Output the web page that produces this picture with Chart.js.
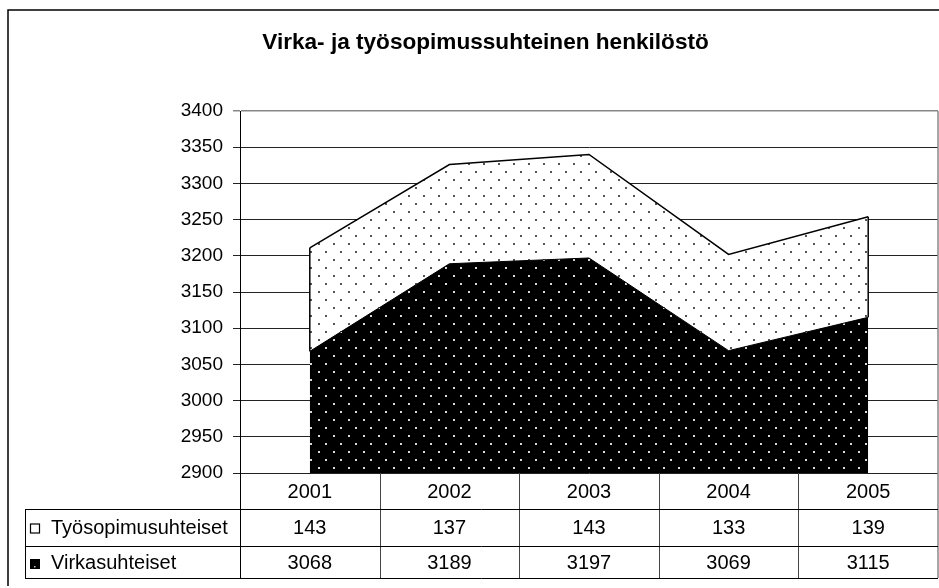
<!DOCTYPE html>
<html>
<head>
<meta charset="utf-8">
<script src="https://cdn.jsdelivr.net/npm/chart.js@4.4.0/dist/chart.umd.min.js"></script>
<style>
  body { margin: 0; background: #fff; }
</style>
</head>
<body>
<canvas id="myChart" width="939" height="588"></canvas>
<script>
// DATA

const chartTitle = "Virka- ja työsopimussuhteinen henkilöstö";
const years = ["2001", "2002", "2003", "2004", "2005"];
const tyoValues = [143, 137, 143, 133, 139];
const virkaValues = [3068, 3189, 3197, 3069, 3115];
const tyoName = "Työsopimusuhteiset";
const virkaName = "Virkasuhteiset";
const yMin = 2900;
const yMax = 3400;
const yStep = 50;

const FONT = '"Liberation Sans", Arial, sans-serif';

const canvas = document.getElementById('myChart');
const mainCtx = canvas.getContext('2d');

// dotted fill like the old excel pattern
function dotPattern(bg, dot) {
  const c = document.createElement('canvas');
  c.width = 15;
  c.height = 16;
  const g = c.getContext('2d');
  g.fillStyle = bg;
  g.fillRect(0, 0, 15, 16);
  g.fillStyle = dot;
  g.fillRect(3, 3, 2, 2);
  g.fillRect(10, 11, 2, 2);
  return mainCtx.createPattern(c, 'repeat');
}

// TITLE, FRAME AND DATA TABLE

const tablePlugin = {
  id: 'dataTable',
  afterDraw(chart) {
    const ctx = chart.ctx;
    const a = chart.chartArea;
    const xs = chart.scales.x;
    const rows = [a.bottom, a.bottom + 36, a.bottom + 73, a.bottom + 105];
    const tableLeft = 25;

    ctx.save();

    // outer frame (cropped at right and bottom)
    ctx.strokeStyle = '#000';
    ctx.lineWidth = 1.5;
    ctx.beginPath();
    ctx.moveTo(8, 586);
    ctx.lineTo(8, 10);
    ctx.lineTo(939, 10);
    ctx.stroke();

    // title
    ctx.fillStyle = '#000';
    ctx.font = 'bold 22.6px ' + FONT;
    ctx.textAlign = 'center';
    ctx.textBaseline = 'middle';
    ctx.fillText(chartTitle, 485.5, 43);

    // side edges of the stacked areas
    const m0 = chart.getDatasetMeta(0).data;
    const m1 = chart.getDatasetMeta(1).data;
    ctx.strokeStyle = '#000';
    ctx.lineWidth = 1.5;
    [0, m1.length - 1].forEach(i => {
      ctx.beginPath();
      ctx.moveTo(m1[i].x, m1[i].y);
      ctx.lineTo(m0[i].x, m0[i].y);
      ctx.stroke();
    });

    // plot right border + table right border
    ctx.strokeStyle = '#888';
    ctx.lineWidth = 1.5;
    ctx.beginPath();
    ctx.moveTo(a.right, a.top);
    ctx.lineTo(a.right, rows[3]);
    ctx.stroke();

    // axis line continues through the table
    ctx.strokeStyle = '#000';
    ctx.lineWidth = 1;
    ctx.beginPath();
    ctx.moveTo(a.left + 0.5, a.bottom);
    ctx.lineTo(a.left + 0.5, rows[3]);
    ctx.stroke();

    // category separators
    ctx.strokeStyle = '#444';
    for (let i = 1; i < years.length; i++) {
      const bx = Math.round((xs.getPixelForValue(i - 1) + xs.getPixelForValue(i)) / 2) + 0.5;
      ctx.beginPath();
      ctx.moveTo(bx, rows[0]);
      ctx.lineTo(bx, rows[3]);
      ctx.stroke();
    }

    // horizontal rows
    ctx.strokeStyle = '#000';
    [rows[1], rows[2], rows[3]].forEach(ry => {
      ctx.beginPath();
      ctx.moveTo(tableLeft, ry + 0.5);
      ctx.lineTo(a.right, ry + 0.5);
      ctx.stroke();
    });
    ctx.beginPath();
    ctx.moveTo(tableLeft + 0.5, rows[1]);
    ctx.lineTo(tableLeft + 0.5, rows[3]);
    ctx.stroke();

    // texts
    ctx.font = '20px ' + FONT;
    ctx.textAlign = 'center';
    ctx.textBaseline = 'middle';
    const mid = r => (rows[r] + rows[r + 1]) / 2 + 1;
    years.forEach((yr, i) => {
      const cx = xs.getPixelForValue(i);
      ctx.fillText(yr, cx, mid(0));
      ctx.fillText(String(tyoValues[i]), cx, mid(1));
      ctx.fillText(String(virkaValues[i]), cx, mid(2));
    });

    ctx.textAlign = 'left';
    ctx.fillText(tyoName, 51, mid(1));
    ctx.fillText(virkaName, 51, mid(2));

    // legend keys
    ctx.fillStyle = '#fff';
    ctx.strokeStyle = '#000';
    ctx.lineWidth = 1.2;
    ctx.fillRect(30.5, mid(1) - 4.5, 9, 9);
    ctx.strokeRect(30.5, mid(1) - 4.5, 9, 9);
    ctx.fillStyle = '#000';
    ctx.fillRect(30, mid(2) - 4, 10, 10);
    ctx.fillStyle = '#ccc';
    ctx.fillRect(34, mid(2) + 3, 1.5, 1.5);

    ctx.restore();
  }
};

new Chart(canvas, {
  type: 'line',
  data: {
    labels: years,
    datasets: [{
      label: virkaName,
      data: virkaValues,
      backgroundColor: dotPattern('#000', '#d8d8d8'),
      borderColor: '#000',
      borderWidth: 1,
      fill: 'start',
      pointRadius: 0,
      tension: 0
    }, {
      label: tyoName,
      data: tyoValues,
      backgroundColor: dotPattern('#fff', '#555'),
      borderColor: '#000',
      borderWidth: 1.5,
      fill: '-1',
      pointRadius: 0,
      tension: 0
    }]
  },
  options: {
    responsive: false,
    animation: false,
    layout: {
      padding: { top: 111, bottom: 115, left: 0, right: 1 }
    },
    plugins: {
      legend: { display: false },
      title: { display: false },
      tooltip: { enabled: false }
    },
    scales: {
      x: {
        display: false,
        offset: true
      },
      y: {
        stacked: true,
        min: yMin,
        max: yMax,
        ticks: {
          stepSize: yStep,
          color: '#000',
          padding: 10,
          font: { family: FONT, size: 19 },
          callback: v => String(v)
        },
        grid: {
          color: c => (c.tick && c.tick.value === yMax) ? '#888' : '#222',
          lineWidth: c => (c.tick && c.tick.value === yMax) ? 1.5 : 1,
          tickLength: 7
        },
        border: { display: true, color: '#000', width: 1 },
        afterFit: s => { s.width = 240; }
      }
    }
  },
  plugins: [tablePlugin]
});
</script>
</body>
</html>
